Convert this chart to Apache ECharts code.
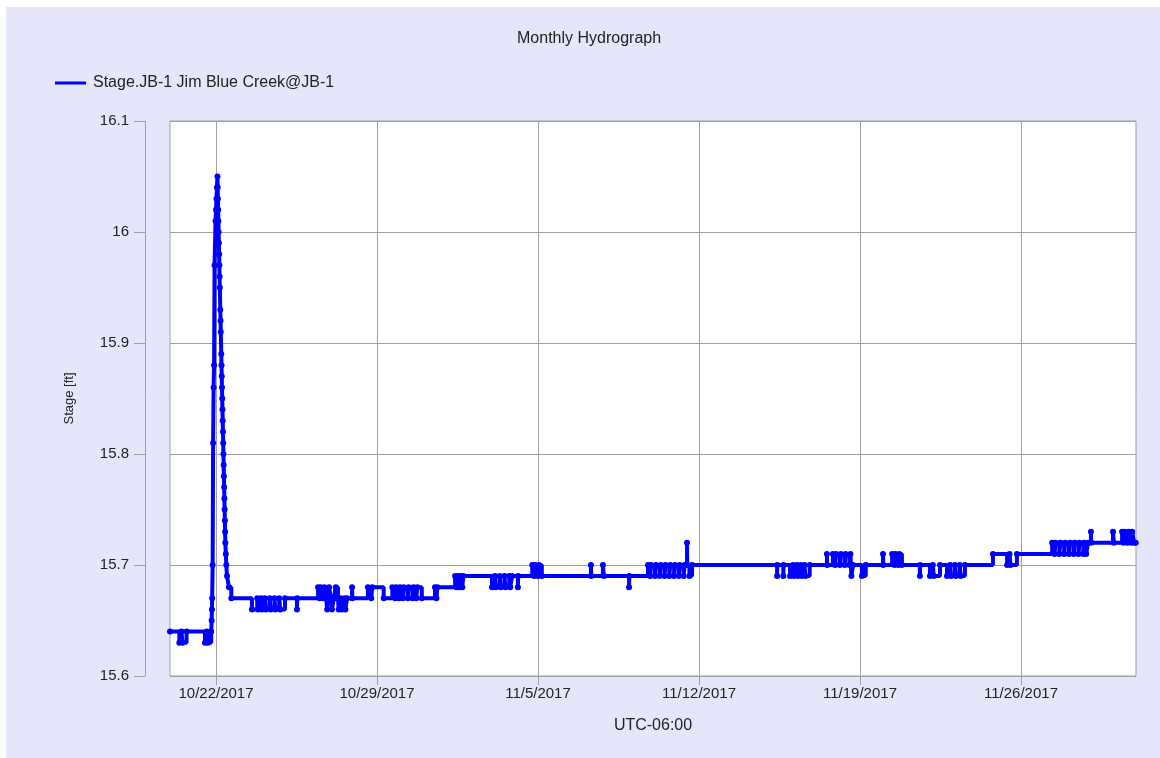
<!DOCTYPE html>
<html>
<head>
<meta charset="utf-8">
<title>Monthly Hydrograph</title>
<script src="https://cdn.jsdelivr.net/npm/echarts@6/dist/echarts.min.js"></script>
<style>
  html, body { margin: 0; padding: 0; background: #fff; }
  #chart { position: absolute; left: 6px; top: 7px; width: 1154px; height: 751px; }
</style>
</head>
<body>
<div id="chart"></div>
<script>
  // stage readings [time, ft] - only where the value changes
  const beforeFlood = [
    ['10/20 00:00', 15.64],
    ['10/20 09:45', 15.63], ['10/20 12:00', 15.64], ['10/20 13:00', 15.63], ['10/20 17:15', 15.64],
    ['10/21 12:30', 15.63], ['10/21 14:30', 15.64], ['10/21 15:30', 15.63], ['10/21 19:00', 15.64]
  ];
  const floodEvent = [
    ['10/21 19:30', 15.65], ['10/21 19:45', 15.66], ['10/21 20:00', 15.67], ['10/21 20:30', 15.70],
    ['10/21 21:00', 15.81], ['10/21 21:30', 15.86], ['10/21 22:00', 15.88], ['10/21 22:30', 15.97],
    ['10/21 23:30', 16.01], ['10/22 00:00', 16.02], ['10/22 00:30', 16.03], ['10/22 01:00', 16.04],
    ['10/22 01:30', 16.05],
    ['10/22 01:45', 16.04], ['10/22 02:00', 16.03], ['10/22 02:15', 16.02], ['10/22 02:30', 16.01],
    ['10/22 02:45', 16.00], ['10/22 03:00', 15.99], ['10/22 03:15', 15.98], ['10/22 03:30', 15.97],
    ['10/22 03:45', 15.96], ['10/22 04:00', 15.95], ['10/22 04:30', 15.93], ['10/22 04:45', 15.92],
    ['10/22 05:00', 15.91], ['10/22 05:30', 15.89], ['10/22 05:45', 15.88], ['10/22 06:00', 15.87],
    ['10/22 06:15', 15.86], ['10/22 06:30', 15.85], ['10/22 06:45', 15.84], ['10/22 07:00', 15.83],
    ['10/22 07:15', 15.82], ['10/22 07:30', 15.81], ['10/22 07:45', 15.80], ['10/22 08:00', 15.79],
    ['10/22 08:15', 15.78], ['10/22 08:30', 15.77], ['10/22 08:45', 15.76], ['10/22 09:00', 15.75],
    ['10/22 09:15', 15.74], ['10/22 09:30', 15.73], ['10/22 09:45', 15.72], ['10/22 10:15', 15.71],
    ['10/22 10:45', 15.70], ['10/22 11:30', 15.69], ['10/22 13:30', 15.68], ['10/22 16:00', 15.67]
  ];
  const lateOctober = [
    ['10/23 13:30', 15.66], ['10/23 19:00', 15.67], ['10/23 20:00', 15.66], ['10/23 23:00', 15.67],
    ['10/24 00:00', 15.66], ['10/24 03:00', 15.67], ['10/24 04:00', 15.66], ['10/24 08:00', 15.67],
    ['10/24 09:00', 15.66], ['10/24 13:00', 15.67], ['10/24 14:00', 15.66], ['10/24 18:00', 15.67],
    ['10/24 19:00', 15.66], ['10/25 00:00', 15.67],
    ['10/25 12:30', 15.66], ['10/25 12:45', 15.67],
    ['10/26 10:30', 15.68], ['10/26 12:00', 15.67], ['10/26 13:00', 15.68], ['10/26 16:00', 15.67],
    ['10/26 17:00', 15.68], ['10/26 19:00', 15.67], ['10/26 20:00', 15.66], ['10/26 21:00', 15.67],
    ['10/26 22:00', 15.68], ['10/27 00:00', 15.67], ['10/27 01:00', 15.66], ['10/27 03:00', 15.67],
    ['10/27 05:00', 15.68], ['10/27 07:15', 15.67], ['10/27 08:00', 15.66], ['10/27 10:00', 15.67],
    ['10/27 11:00', 15.66], ['10/27 14:00', 15.67], ['10/27 15:00', 15.66], ['10/27 16:45', 15.67],
    ['10/27 22:00', 15.68], ['10/27 22:15', 15.67],
    ['10/28 14:30', 15.68], ['10/28 18:00', 15.67], ['10/28 19:00', 15.68], ['10/29 07:00', 15.67],
    ['10/29 16:00', 15.68], ['10/29 19:00', 15.67], ['10/29 20:00', 15.68], ['10/29 23:00', 15.67],
    ['10/30 00:00', 15.68], ['10/30 03:00', 15.67], ['10/30 04:00', 15.68], ['10/30 08:00', 15.67],
    ['10/30 09:00', 15.68], ['10/30 13:00', 15.67], ['10/30 14:00', 15.68], ['10/30 17:00', 15.67],
    ['10/30 18:00', 15.68], ['10/30 22:45', 15.67],
    ['10/31 12:30', 15.68], ['10/31 14:00', 15.67], ['10/31 15:00', 15.68]
  ];
  const earlyNovember = [
    ['11/01 09:30', 15.69], ['11/01 11:00', 15.68], ['11/01 12:00', 15.69], ['11/01 14:00', 15.68],
    ['11/01 15:00', 15.69], ['11/01 17:00', 15.68], ['11/01 18:00', 15.69],
    ['11/03 00:00', 15.68], ['11/03 03:00', 15.69], ['11/03 04:00', 15.68], ['11/03 08:00', 15.69],
    ['11/03 09:00', 15.68], ['11/03 13:00', 15.69], ['11/03 14:00', 15.68], ['11/03 18:00', 15.69],
    ['11/03 19:00', 15.68], ['11/03 21:00', 15.69],
    ['11/04 03:00', 15.68], ['11/04 03:15', 15.69],
    ['11/04 18:00', 15.70], ['11/04 20:00', 15.69], ['11/04 21:00', 15.70], ['11/05 00:00', 15.69],
    ['11/05 01:00', 15.70], ['11/05 04:00', 15.69],
    ['11/07 07:15', 15.70], ['11/07 07:30', 15.69],
    ['11/07 19:45', 15.70], ['11/07 20:45', 15.69],
    ['11/08 23:00', 15.68], ['11/08 23:15', 15.69],
    ['11/09 18:45', 15.70], ['11/09 21:00', 15.69], ['11/09 22:00', 15.70], ['11/10 02:00', 15.69],
    ['11/10 03:00', 15.70], ['11/10 07:00', 15.69], ['11/10 08:00', 15.70], ['11/10 12:00', 15.69],
    ['11/10 13:00', 15.70], ['11/10 17:00', 15.69], ['11/10 18:00', 15.70], ['11/10 22:00', 15.69],
    ['11/10 23:00', 15.70], ['11/11 03:00', 15.69], ['11/11 04:00', 15.70], ['11/11 08:00', 15.69],
    ['11/11 09:00', 15.70], ['11/11 11:30', 15.72], ['11/11 11:45', 15.70], ['11/11 14:00', 15.69],
    ['11/11 16:45', 15.70]
  ];
  const midNovember = [
    ['11/15 09:30', 15.69], ['11/15 09:45', 15.70],
    ['11/15 16:00', 15.69], ['11/15 16:15', 15.70],
    ['11/15 23:00', 15.69], ['11/16 02:00', 15.70], ['11/16 03:00', 15.69], ['11/16 06:00', 15.70],
    ['11/16 07:00', 15.69], ['11/16 10:00', 15.70], ['11/16 11:00', 15.69], ['11/16 14:00', 15.70],
    ['11/16 15:00', 15.69], ['11/16 19:30', 15.70],
    ['11/17 13:30', 15.71], ['11/17 13:45', 15.70],
    ['11/17 19:45', 15.71], ['11/17 22:00', 15.70], ['11/17 23:00', 15.71], ['11/18 03:00', 15.70],
    ['11/18 04:00', 15.71], ['11/18 08:00', 15.70], ['11/18 09:00', 15.71], ['11/18 13:00', 15.70],
    ['11/18 14:00', 15.71], ['11/18 15:00', 15.69], ['11/18 16:45', 15.70],
    ['11/19 02:00', 15.69], ['11/19 06:00', 15.70],
    ['11/20 00:00', 15.71], ['11/20 00:15', 15.70],
    ['11/20 09:30', 15.71], ['11/20 12:00', 15.70], ['11/20 13:00', 15.71], ['11/20 16:00', 15.70],
    ['11/20 17:00', 15.71], ['11/20 19:45', 15.70],
    ['11/21 14:30', 15.69], ['11/21 14:45', 15.70],
    ['11/22 01:00', 15.69], ['11/22 04:00', 15.70], ['11/22 05:00', 15.69], ['11/22 11:30', 15.70],
    ['11/22 18:45', 15.69], ['11/22 22:00', 15.70], ['11/22 23:00', 15.69], ['11/23 03:00', 15.70],
    ['11/23 04:00', 15.69], ['11/23 08:00', 15.70], ['11/23 09:00', 15.69], ['11/23 13:30', 15.70]
  ];
  const lateNovember = [
    ['11/24 18:45', 15.71],
    ['11/25 09:30', 15.70], ['11/25 12:00', 15.71], ['11/25 13:00', 15.70], ['11/25 19:45', 15.71],
    ['11/27 08:30', 15.72], ['11/27 11:00', 15.71], ['11/27 12:00', 15.72], ['11/27 16:00', 15.71],
    ['11/27 17:00', 15.72], ['11/27 21:00', 15.71], ['11/27 22:00', 15.72], ['11/28 02:00', 15.71],
    ['11/28 03:00', 15.72], ['11/28 07:00', 15.71], ['11/28 08:00', 15.72], ['11/28 12:00', 15.71],
    ['11/28 13:00', 15.72], ['11/28 17:00', 15.71], ['11/28 18:00', 15.72], ['11/28 20:00', 15.71],
    ['11/28 22:00', 15.72],
    ['11/29 01:00', 15.73], ['11/29 01:15', 15.72],
    ['11/30 00:00', 15.73], ['11/30 01:00', 15.72],
    ['11/30 09:30', 15.73], ['11/30 11:00', 15.72], ['11/30 12:00', 15.73], ['11/30 15:00', 15.72],
    ['11/30 16:00', 15.73], ['11/30 19:00', 15.72], ['11/30 20:00', 15.73], ['11/30 22:00', 15.72],
    ['11/30 23:45', 15.72]
  ];
  const dateTicks = ['10/22 00:00', '10/29 00:00', '11/05 00:00', '11/12 00:00', '11/19 00:00', '11/26 00:00'];
  const xStart = '10/20 00:00';
  const xEnd = '12/01 00:00';
  const seriesName = 'Stage.JB-1 Jim Blue Creek@JB-1';

  function toTime(s) {
    const parts = s.split(' ');
    const md = parts[0].split('/').map(Number);
    const hm = parts[1].split(':').map(Number);
    return new Date(2017, md[0] - 1, md[1], hm[0], hm[1]).getTime();
  }

  const readings = [].concat(beforeFlood, floodEvent, lateOctober, earlyNovember, midNovember, lateNovember)
    .map(r => [toTime(r[0]), r[1]]);
  const tickValues = dateTicks.map(toTime);

  const font = 'Liberation Sans, Arial, sans-serif';
  const grey = '#a0a0a0';
  const txt = '#222';

  let myChart = echarts.init(document.getElementById('chart'));
  myChart.setOption({
    backgroundColor: '#e6e6fa',
    animation: false,
    title: {
      text: 'Monthly Hydrograph',
      left: 511, top: 24, padding: 0,
      textStyle: { fontFamily: font, fontSize: 16, fontWeight: 'normal', color: txt }
    },
    legend: {
      data: [seriesName],
      left: 49, top: 68, padding: 0,
      icon: 'rect', itemWidth: 31, itemHeight: 3, itemGap: 0,
      textStyle: { fontFamily: font, fontSize: 16, color: txt, padding: [0, 0, 0, 2] }
    },
    grid: {
      left: 164, top: 114, right: 24, bottom: 82,
      show: true, backgroundColor: '#fff', borderColor: grey, borderWidth: 1
    },
    xAxis: {
      type: 'value',
      min: toTime(xStart), max: toTime(xEnd),
      name: 'UTC-06:00', nameLocation: 'middle', nameGap: 42,
      nameTextStyle: { fontFamily: font, fontSize: 16, color: txt },
      axisLine: { show: false },
      axisTick: { show: true, customValues: tickValues, length: 9, lineStyle: { color: grey } },
      axisLabel: {
        customValues: tickValues, margin: 10,
        fontFamily: font, fontSize: 15, color: txt,
        formatter: v => { const d = new Date(v); return (d.getMonth() + 1) + '/' + d.getDate() + '/' + d.getFullYear(); }
      },
      splitLine: { show: true, lineStyle: { color: grey, width: 1 } }
    },
    yAxis: {
      type: 'value',
      min: 15.6, max: 16.1, interval: 0.1,
      offset: 25,
      name: 'Stage [ft]', nameLocation: 'middle', nameGap: 69, nameRotate: 90,
      nameTextStyle: { fontFamily: font, fontSize: 13, color: txt },
      axisLine: { show: true, lineStyle: { color: grey } },
      axisTick: { show: true, length: 11, lineStyle: { color: grey } },
      axisLabel: { margin: 16, fontFamily: font, fontSize: 15, color: txt },
      splitLine: { show: true, lineStyle: { color: grey, width: 1 } }
    },
    series: [{
      name: seriesName,
      type: 'line',
      step: 'end',
      data: readings,
      symbol: 'circle',
      symbolSize: 6,
      color: '#0000ff',
      lineStyle: { color: '#0000ff', width: 4 },
      itemStyle: { color: '#0000ff' },
      emphasis: { disabled: true }
    }]
  });
</script>
</body>
</html>
